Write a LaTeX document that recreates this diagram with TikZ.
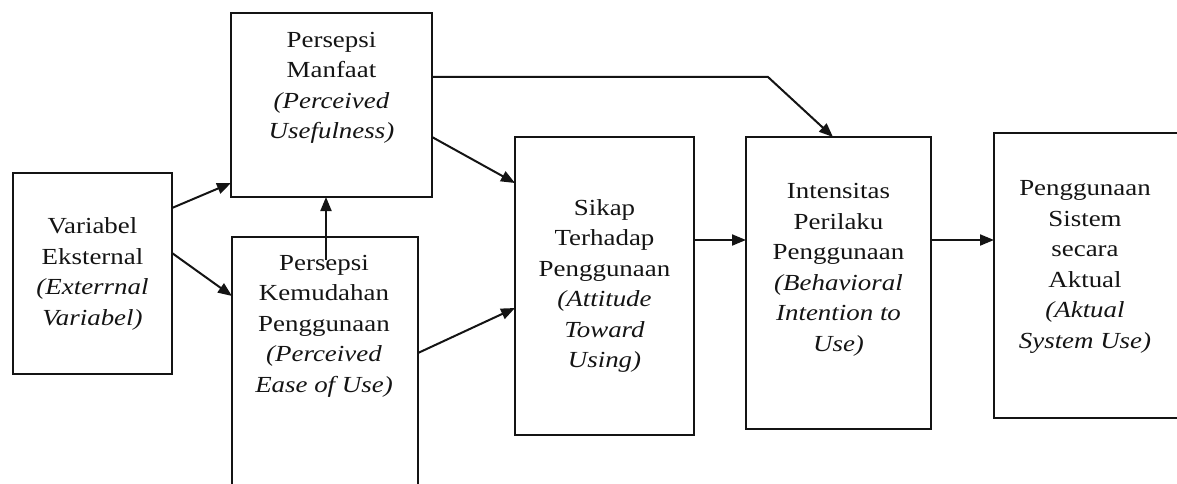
\documentclass[tikz,border=0pt]{standalone}
\usepackage{fontspec}
\setmainfont{Liberation Serif}[FakeStretch=1.17]
\usetikzlibrary{arrows.meta}
\definecolor{ink}{HTML}{141414}
\begin{document}
\begin{tikzpicture}[x=1pt,y=-1pt,
  box/.style={draw=ink, line width=2pt, rectangle, inner sep=0pt, outer sep=0pt},
  txt/.style={align=center, text=ink, inner sep=0pt, font=\fontsize{23}{30.5}\selectfont},
  arr/.style={draw=ink, line width=2pt, -{Triangle[length=14pt,width=11pt]}}]
\path[use as bounding box, clip] (0,0) rectangle (1177,484);
% boxes
\node[box, minimum width=159pt, minimum height=201pt] (b1) at (92.5,273.5) {};
\node[box, minimum width=201pt, minimum height=184pt] (b2) at (331.5,105) {};
\node[box, minimum width=186pt, minimum height=263pt] (b3) at (325,368.5) {};
\node[box, minimum width=179pt, minimum height=298pt] (b4) at (604.5,286) {};
\node[box, minimum width=185pt, minimum height=292pt] (b5) at (838.5,283) {};
\node[box, minimum width=186pt, minimum height=285pt] (b6) at (1087,275.5) {};
% texts
\node[txt] (t1) at (92.5,274) {Variabel\\Eksternal\\\textit{(Exterrnal}\\\textit{Variabel)}};
\node[txt] (t2) at (331.5,88) {Persepsi\\Manfaat\\\textit{(Perceived}\\\textit{Usefulness)}};
\node[txt] (t3) at (324,326) {Persepsi\\Kemudahan\\Penggunaan\\\textit{(Perceived}\\\textit{Ease of Use)}};
\node[txt] (t4) at (604.5,286) {Sikap\\Terhadap\\Penggunaan\\\textit{(Attitude}\\\textit{Toward}\\\textit{Using)}};
\node[txt] (t5) at (838.5,270) {Intensitas\\Perilaku\\Penggunaan\\\textit{(Behavioral}\\\textit{Intention to}\\\textit{Use)}};
\node[txt] (t6) at (1085,267) {Penggunaan\\Sistem\\secara\\Aktual\\\textit{(Aktual}\\\textit{System Use)}};
% connectors
\draw[arr] ([yshift=65.5pt]b1.east) -- ([yshift=-78pt]b2.west);
\draw[arr] ([yshift=20.5pt]b1.east) -- ([yshift=72.5pt]b3.west);
\draw[arr] ([xshift=1pt,yshift=-23pt]b3.north) -- ([xshift=-5.5pt]b2.south);
\draw[arr] ([yshift=-32pt]b2.east) -- ([yshift=103pt]b4.west);
\coordinate (bend) at (768,77);
\draw[arr] ([yshift=28pt]b2.east) -- (bend) -- ([xshift=-5.5pt]b5.north);
\draw[arr] ([yshift=15.5pt]b3.east) -- ([yshift=-22pt]b4.west);
\draw[arr] ([yshift=46pt]b4.east) -- ([yshift=43pt]b5.west);
\draw[arr] ([yshift=43pt]b5.east) -- ([yshift=35.5pt]b6.west);
\end{tikzpicture}
\end{document}
